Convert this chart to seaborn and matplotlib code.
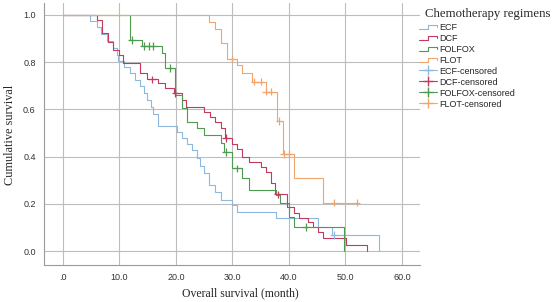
#!/usr/bin/env python3
import pandas as pd
import matplotlib
matplotlib.use('Agg')
import matplotlib.pyplot as plt
import seaborn as sns
from matplotlib.lines import Line2D
from matplotlib.legend_handler import HandlerLine2D

# Kaplan-Meier step values (time in months, survival)
groups = ['ECF', 'DCF', 'FOLFOX', 'FLOT']
colors = ['#8FB8DE', '#C23B5E', '#4E9A4E', '#F2A46B']

ecf_t = [0, 4.8, 6.0, 6.8, 7.8, 8.8, 9.5, 9.8, 10.8, 11.9, 12.8, 13.7, 14.3, 14.9, 15.5, 16.0, 16.9,
         20.2, 21.1, 22.0, 22.8, 23.7, 24.3, 24.9, 25.8, 27.0, 27.9, 30.0, 30.8, 37.7, 45.1, 47.7, 56.0]
ecf_s = [1.0, 0.975, 0.95, 0.92, 0.89, 0.86, 0.83, 0.805, 0.78, 0.753, 0.725, 0.70, 0.67, 0.64, 0.61, 0.58, 0.53,
         0.505, 0.48, 0.455, 0.428, 0.393, 0.36, 0.33, 0.28, 0.251, 0.216, 0.195, 0.167, 0.139, 0.10, 0.068, 0.0]

dcf_t = [0, 6.0, 6.9, 7.9, 8.9, 9.9, 10.7, 13.7, 14.9, 16.9, 18.1, 19.6, 21.1, 21.7, 24.9, 26.1, 27.0,
         27.9, 28.6, 30.0, 30.8, 31.7, 32.9, 35.0, 35.9, 36.8, 37.6, 39.7, 40.9, 41.8, 43.3, 44.2, 45.1,
         46.0, 50.1, 53.9]
dcf_s = [1.0, 0.979, 0.922, 0.887, 0.852, 0.83, 0.795, 0.753, 0.727, 0.71, 0.689, 0.668, 0.64, 0.611, 0.59, 0.569, 0.548,
         0.52, 0.478, 0.455, 0.43, 0.40, 0.378, 0.357, 0.336, 0.29, 0.24, 0.188, 0.16, 0.138, 0.124, 0.103, 0.082,
         0.054, 0.025, 0.0]

folfox_t = [0, 11.9, 14.0, 17.5, 18.1, 19.9, 21.1, 22.0, 23.7, 24.9, 27.9, 28.5, 30.0, 31.7, 32.9, 37.7,
            38.5, 40.0, 40.9, 49.8]
folfox_s = [1.0, 0.894, 0.869, 0.838, 0.774, 0.661, 0.605, 0.548, 0.52, 0.49, 0.456, 0.42, 0.35, 0.308, 0.258, 0.237,
            0.205, 0.145, 0.103, 0.0]

flot_t = [0, 25.8, 27.0, 28.0, 29.0, 30.8, 31.7, 33.5, 35.9, 37.9, 39.0, 40.9, 46.0, 52.0]
flot_s = [1.0, 0.97, 0.94, 0.88, 0.815, 0.786, 0.755, 0.717, 0.675, 0.55, 0.41, 0.31, 0.205, 0.205]

# censored observations
ecf_ct, ecf_cs = [48.0], [0.068]
dcf_ct, dcf_cs = [15.8, 19.9, 28.9, 38.0], [0.727, 0.668, 0.478, 0.24]
folfox_ct = [12.2, 14.3, 15.2, 16.0, 19.0, 28.9, 30.8, 43.0]
folfox_cs = [0.894, 0.869, 0.869, 0.869, 0.774, 0.42, 0.35, 0.103]
flot_ct = [30.0, 33.9, 35.0, 35.9, 36.8, 38.3, 39.1, 40.0, 48.0, 52.0]
flot_cs = [0.815, 0.717, 0.717, 0.675, 0.675, 0.55, 0.41, 0.41, 0.205, 0.205]

steps = pd.concat([
    pd.DataFrame({'time': t, 'surv': s, 'group': g})
    for g, t, s in zip(groups, [ecf_t, dcf_t, folfox_t, flot_t], [ecf_s, dcf_s, folfox_s, flot_s])
])
cens = pd.concat([
    pd.DataFrame({'time': t, 'surv': s, 'group': g})
    for g, t, s in zip(groups, [ecf_ct, dcf_ct, folfox_ct, flot_ct], [ecf_cs, dcf_cs, folfox_cs, flot_cs])
])
palette = dict(zip(groups, colors))

sns.set_style('white')
plt.rcParams['font.family'] = ['Liberation Sans', 'DejaVu Sans']

fig = plt.figure(figsize=(5.54, 3.02), dpi=100)
ax = fig.add_axes([0.0794, 0.1225, 0.6786, 0.8675])

sns.lineplot(data=steps, x='time', y='surv', hue='group', palette=palette, estimator=None,
             sort=False, drawstyle='steps-post', linewidth=0.8, legend=False, ax=ax)
sns.scatterplot(data=cens, x='time', y='surv', hue='group', palette=palette, marker='+',
                s=30, linewidth=0.9, legend=False, ax=ax, zorder=3)

ax.set_xlim(-3.37, 63.2)
ax.set_ylim(-0.059, 1.05)
ax.set_xticks([0, 10, 20, 30, 40, 50, 60])
ax.set_xticklabels(['.0', '10.0', '20.0', '30.0', '40.0', '50.0', '60.0'])
ax.set_yticks([0, 0.2, 0.4, 0.6, 0.8, 1.0])
ax.set_yticklabels(['0.0', '0.2', '0.4', '0.6', '0.8', '1.0'])
ax.tick_params(labelsize=6.5, colors='#333333', length=0, pad=6)
ax.grid(True, color='#BDBDBD', linewidth=0.8)
ax.set_axisbelow(True)
for side in ['top', 'right']:
    ax.spines[side].set_visible(False)
for side in ['left', 'bottom']:
    ax.spines[side].set_color('#9A9A9A')
    ax.spines[side].set_linewidth(0.8)

ax.set_xlabel('Overall survival (month)', family='Liberation Serif', fontsize=8.5)
ax.set_ylabel('Cumulative survival', family='Liberation Serif', fontsize=8.8)
ax.xaxis.set_label_coords(0.523, -0.085)
ax.yaxis.set_label_coords(-0.075, 0.496)


class StepHandler(HandlerLine2D):
    def create_artists(self, legend, orig_handle, xdescent, ydescent, width, height, fontsize, trans):
        x0, x1 = -xdescent, width - xdescent
        lo = -ydescent + 0.15 * height
        hi = -ydescent + 0.75 * height
        xs = [x0, x0 + 0.45 * width, x0 + 0.45 * width, x1 - 0.05 * width, x1 - 0.05 * width]
        ys = [lo, lo, hi, hi, hi - 0.3 * height]
        ln = Line2D(xs, ys, color=orig_handle.get_color(), lw=0.8, transform=trans)
        return [ln]


step_handles = [Line2D([], [], color=c) for c in colors]
cens_handles = [Line2D([], [], color=c, marker='+', markersize=7, lw=0.8) for c in colors]
labels = groups + [g + '-censored' for g in groups]
handler_map = {h: StepHandler() for h in step_handles}
fig.legend(step_handles + cens_handles, labels, handler_map=handler_map,
           loc='upper left', bbox_to_anchor=(0.757, 0.925), frameon=False,
           fontsize=6.5, handlelength=2.0, handletextpad=0.15, labelspacing=0.22,
           borderaxespad=0, borderpad=0)
fig.text(0.768, 0.975, 'Chemotherapy regimens', family='Liberation Serif', fontsize=9.2, va='top')

fig.savefig('out.png', dpi=100)
